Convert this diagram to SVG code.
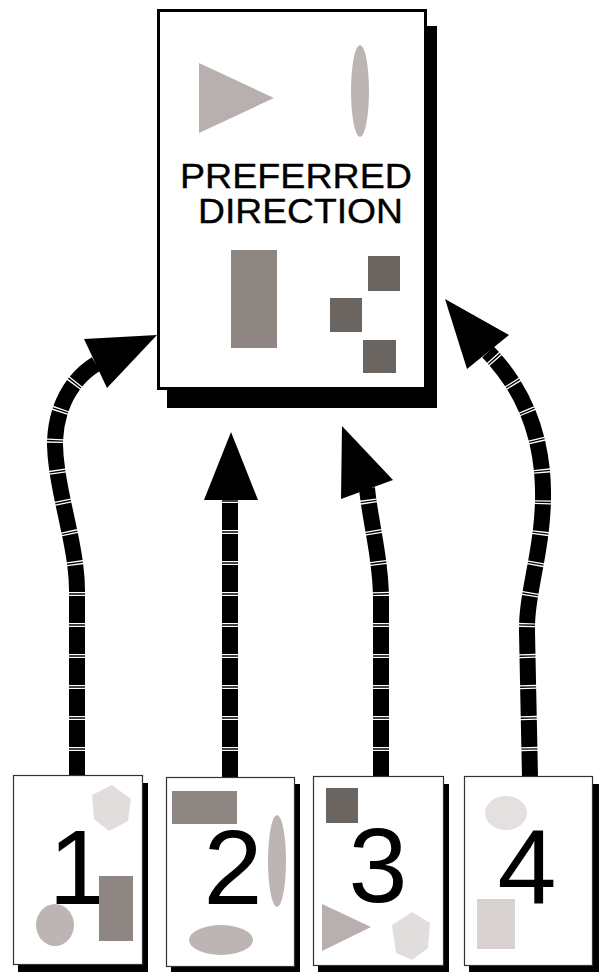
<svg xmlns="http://www.w3.org/2000/svg" width="600" height="973" viewBox="0 0 600 973">
<style>
.stem{fill:none;stroke:#000;stroke-width:16;stroke-dasharray:27 1.3 1.4 1.3;}
.head{fill:#000;}
.shadow{fill:#000;}
.page{fill:#fff;stroke:#333;stroke-width:1.2;}
.main{fill:#fff;stroke:#000;stroke-width:3;}
.tri{fill:#b8b0ae;}
.ell{fill:#bdb5b3;}
.rct{fill:#8d8682;}
.sq{fill:#6b6561;}
.hex{fill:#e1dddc;}
.lbl{font-family:"Liberation Sans",Arial,sans-serif;font-size:35px;fill:#000;stroke:#000;stroke-width:0.35;}
.num{font-family:"Liberation Sans",Arial,sans-serif;font-size:106px;fill:#000;text-anchor:middle;}
</style>
<rect width="600" height="973" fill="#fff"/>
<g id="connectors">
  <path class="stem" d="M77,778 L77,590 C77,545 56,490 55,445 C55,410 70,380 96,364"/>
  <polygon class="head" points="157,335 84,339 107,388"/>
  <path class="stem" d="M230,778 L230,498"/>
  <polygon class="head" points="231,432 204,500 258,500"/>
  <path class="stem" d="M381,778 L381,600 C381,560 370,520 367,488"/>
  <polygon class="head" points="342,426 341,499 393,480"/>
  <path class="stem" d="M530,778 L527,632 C526,592 544,548 543,490 C542,430 520,385 488,352"/>
  <polygon class="head" points="445,299 467,369 509,335"/>
</g>
<g id="preferred">
  <rect class="shadow" x="167" y="26" width="270" height="382"/>
  <rect class="main" x="158.5" y="10.5" width="267" height="378"/>
  <polygon class="tri" points="199,63 199,133 274,98"/>
  <ellipse class="ell" cx="360" cy="91" rx="9" ry="46"/>
  <text class="lbl"><tspan x="180" y="188" textLength="232" lengthAdjust="spacingAndGlyphs">PREFERRED</tspan><tspan x="198" y="223" textLength="205" lengthAdjust="spacingAndGlyphs">DIRECTION</tspan></text>
  <rect class="rct" x="231" y="250" width="46" height="98"/>
  <rect class="sq" x="368" y="256" width="32" height="35"/>
  <rect class="sq" x="330" y="298" width="32" height="34"/>
  <rect class="sq" x="363" y="340" width="33" height="33"/>
</g>
<g id="page1">
  <rect class="shadow" x="18" y="783" width="130" height="189"/>
  <rect class="page" x="13.5" y="775.5" width="129" height="189"/>
  <polygon class="hex" points="112,785 131,799 128,821 109,831 94,819 92,795"/>
  <text class="num" x="78" y="904">1</text>
  <rect class="rct" x="99" y="876" width="34" height="65"/>
  <ellipse class="ell" cx="55" cy="925" rx="19" ry="21"/>
</g>
<g id="page2">
  <rect class="shadow" x="171" y="784" width="129" height="188"/>
  <rect class="page" x="166.5" y="777.5" width="128" height="189"/>
  <rect class="rct" x="172" y="791" width="65" height="33"/>
  <text class="num" x="233" y="904">2</text>
  <ellipse class="ell" cx="277" cy="861" rx="9" ry="46"/>
  <ellipse class="ell" cx="221" cy="940" rx="32" ry="15"/>
</g>
<g id="page3">
  <rect class="shadow" x="318" y="784" width="131" height="188"/>
  <rect class="page" x="313.5" y="776.5" width="130" height="189"/>
  <rect class="sq" x="326" y="788" width="32" height="35"/>
  <text class="num" x="378" y="902">3</text>
  <polygon class="tri" points="322,904 322,951 371,927"/>
  <polygon class="hex" points="412,912 430,923 428,948 412,960 396,953 392,925"/>
</g>
<g id="page4">
  <rect class="shadow" x="469" y="784" width="130" height="188"/>
  <rect class="page" x="464.5" y="776.5" width="128" height="189"/>
  <ellipse cx="506" cy="813" rx="21" ry="17" fill="#e4e0df"/>
  <text class="num" x="527" y="904">4</text>
  <rect x="477" y="899" width="38" height="50" fill="#d8d2d0"/>
</g>
</svg>
